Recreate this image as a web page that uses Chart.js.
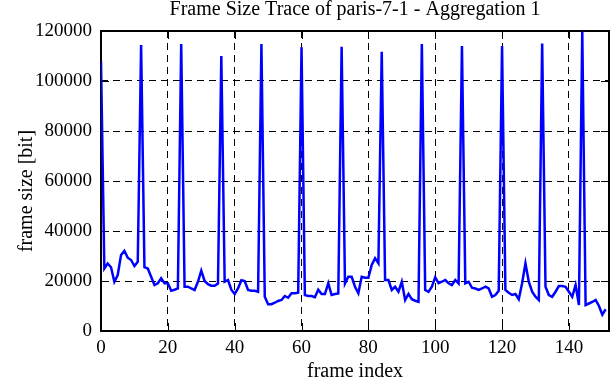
<!DOCTYPE html>
<html>
<head>
<meta charset="utf-8">
<script src="https://cdn.jsdelivr.net/npm/chart.js@4"></script>
<style>
  html, body { margin: 0; padding: 0; background: #ffffff; }
  canvas { display: block; }
</style>
</head>
<body>
<canvas id="c" width="612" height="382"></canvas>
<script>
const chartTitle = 'Frame Size Trace of paris-7-1 - Aggregation 1';
const xTitle = 'frame index';
const yTitle = 'frame size [bit]';
const xTicks = [0, 20, 40, 60, 80, 100, 120, 140];
const yTicks = [0, 20000, 40000, 60000, 80000, 100000, 120000];
const frameSizes = [
  108000, 25000, 27000, 25500, 19700, 22400, 30400, 32100, 29300, 28400,
  26000, 27700, 114400, 25500, 25000, 21700, 18400, 19100, 21100, 19100,
  19100, 16100, 16500, 17000, 114800, 17700, 17700, 17000, 16400, 19700,
  24100, 20000, 18700, 18100, 18100, 19000, 110000, 19700, 20400, 16500,
  14800, 17000, 20300, 20000, 16400, 16100, 16100, 15700, 114800, 13700,
  10700, 10700, 11300, 12000, 12400, 14000, 13300, 15100, 15100, 15300,
  113500, 14400, 14000, 14000, 13500, 16500, 14800, 14800, 19100, 14400,
  14800, 15000, 113700, 19000, 21700, 21700, 17700, 15100, 21700, 21300,
  21300, 26400, 29100, 27100, 111700, 20400, 20400, 16400, 17700, 15700,
  19700, 12400, 14800, 12700, 12100, 11700, 114800, 16400, 15700, 17700,
  21500, 19100, 19700, 20400, 19100, 18400, 20400, 19000, 114000, 19100,
  19700, 17300, 17000, 16400, 17000, 17700, 17000, 13700, 14400, 16100,
  114000, 16400, 15300, 14400, 14800, 12700, 19100, 27100, 19700, 15700,
  13700, 12400, 115000, 17700, 14400, 13700, 15700, 18000, 18000, 17700,
  15700, 13700, 18400, 10400, 119800, 10400, 11000, 11600, 12400, 10000,
  6500, 8700
];
const frameIndex = frameSizes.map((_, i) => i);

const SERIF = "'Liberation Serif', 'DejaVu Serif', serif";
const TICK_FONT = { family: SERIF, size: 19, weight: 'normal' };
const TITLE_FONT = { family: SERIF, size: 20, weight: 'normal', lineHeight: 1 };
const AXIS_FONT = { family: SERIF, size: 20, weight: 'normal', lineHeight: 1.2 };

const framePlugin = {
  id: 'gnuplotFrame',
  beforeDatasetsDraw(chart) {
    const { ctx, chartArea: a, scales } = chart;
    const tl = 8;
    ctx.save();
    ctx.strokeStyle = '#000';
    ctx.lineWidth = 1;
    ctx.setLineDash([]);
    ctx.beginPath();
    xTicks.forEach(v => {
      if (v === 0) return;
      const px = Math.round(scales.x.getPixelForValue(v)) + 0.5;
      ctx.moveTo(px, a.bottom); ctx.lineTo(px, a.bottom - tl);
      ctx.moveTo(px, a.top); ctx.lineTo(px, a.top + tl);
    });
    yTicks.forEach(v => {
      if (v === 0 || v === 120000) return;
      const py = Math.round(scales.y.getPixelForValue(v)) + 0.5;
      ctx.moveTo(a.left, py); ctx.lineTo(a.left + tl, py);
      ctx.moveTo(a.right, py); ctx.lineTo(a.right - tl, py);
    });
    ctx.stroke();
    ctx.lineWidth = 2;
    ctx.strokeRect(a.left, a.top, a.right - a.left, a.bottom - a.top);
    ctx.restore();
  }
};

new Chart(document.getElementById('c'), {
  type: 'line',
  data: {
    labels: frameIndex,
    datasets: [{
      data: frameSizes,
      borderColor: '#0000ff',
      borderWidth: 2.5,
      pointRadius: 0,
      tension: 0,
      fill: false
    }]
  },
  options: {
    responsive: false,
    devicePixelRatio: 1,
    animation: false,
    layout: { padding: { left: 0, right: 3, top: 0, bottom: 0 } },
    plugins: {
      legend: { display: false },
      tooltip: { enabled: false },
      title: {
        display: true,
        text: chartTitle,
        color: '#000',
        font: TITLE_FONT,
        fullSize: false,
        padding: { top: 0, bottom: 11 }
      }
    },
    scales: {
      x: {
        type: 'linear',
        min: 0,
        max: 152,
        afterBuildTicks: s => { s.ticks = xTicks.map(v => ({ value: v })); },
        afterFit: s => { s.height = 51; },
        ticks: { color: '#000', font: TICK_FONT, padding: 6, maxRotation: 0, autoSkip: false,
                 callback: v => String(v) },
        grid: {
          color: ctx => (ctx.tick && (ctx.tick.value === 0) ? 'rgba(0,0,0,0)' : '#000'),
          lineWidth: 1,
          drawTicks: false
        },
        border: { display: false, dash: [7, 5] },
        title: { display: true, text: xTitle, color: '#000', font: AXIS_FONT, padding: { top: 0, bottom: -2 } }
      },
      y: {
        type: 'linear',
        min: 0,
        max: 120000,
        afterBuildTicks: s => { s.ticks = yTicks.map(v => ({ value: v })); },
        afterFit: s => { s.width = 101; },
        ticks: { color: '#000', font: TICK_FONT, padding: 9, callback: v => String(v) },
        grid: {
          color: ctx => (ctx.tick && (ctx.tick.value === 0 || ctx.tick.value === 120000) ? 'rgba(0,0,0,0)' : '#000'),
          lineWidth: 1,
          drawTicks: false
        },
        border: { display: false, dash: [7, 5] },
        title: { display: true, text: yTitle + '    ', color: '#000', font: AXIS_FONT, padding: { top: 15, bottom: 0 } }
      }
    }
  },
  plugins: [framePlugin]
});
</script>
</body>
</html>
